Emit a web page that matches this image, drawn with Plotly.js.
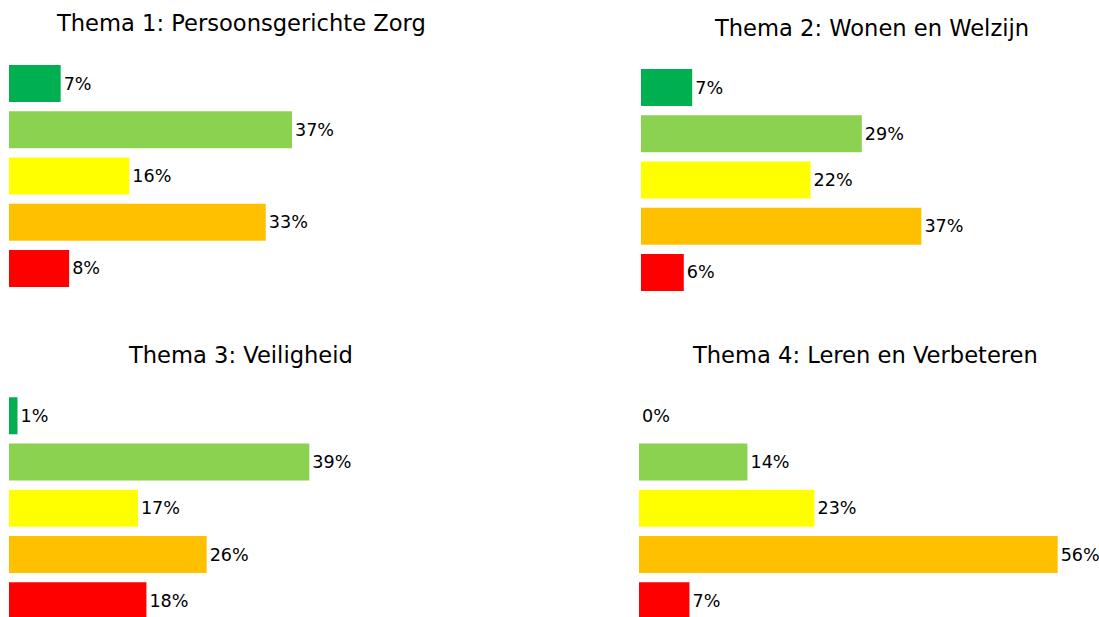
<!DOCTYPE html>
<html>
<head>
<meta charset="utf-8">
<script src="https://cdn.plot.ly/plotly-3.0.1.min.js"></script>
<style>html,body{margin:0;padding:0;background:#fff;}#chart{width:1099px;height:617px;}</style>
</head>
<body>
<div id="chart"></div>
<script>
// Categories (score levels, top to bottom)
var categories = ['Donkergroen', 'Lichtgroen', 'Geel', 'Oranje', 'Rood'];
var barColors = ['#00B050', '#8AD24F', '#FFFF00', '#FFC000', '#FF0000'];

// Subplot titles
var titles = [
  'Thema 1: Persoonsgerichte Zorg',
  'Thema 2: Wonen en Welzijn',
  'Thema 3: Veiligheid',
  'Thema 4: Leren en Verbeteren'
];

// Percentages per theme
var thema1 = [6.7, 36.7, 15.6, 33.3, 7.8];
var thema2 = [6.7, 28.9, 22.2, 36.7, 5.6];
var thema3 = [1.1, 38.9, 16.7, 25.6, 17.8];
var thema4 = [0.0, 14.4, 23.3, 55.6, 6.7];

var series = [thema1, thema2, thema3, thema4];
var W = 1099, H = 617;
var font = 'DejaVu Sans, Liberation Sans, sans-serif';

var traces = series.map(function (vals, i) {
  var n = i === 0 ? '' : String(i + 1);
  return {
    type: 'bar',
    orientation: 'h',
    x: vals,
    y: categories,
    xaxis: 'x' + n,
    yaxis: 'y' + n,
    marker: { color: barColors, line: { width: 0 } },
    width: 0.8,
    texttemplate: '%{x:.0f}%',
    textposition: 'outside',
    textfont: { family: font, size: 17.6, color: '#000' },
    cliponaxis: false,
    hoverinfo: 'skip',
    showlegend: false
  };
});

function xa(d0px, scale, rmax) {
  return {
    domain: [d0px / W, (d0px + scale * rmax) / W],
    range: [0, rmax],
    visible: false,
    showgrid: false,
    zeroline: false,
    fixedrange: true
  };
}
function ya(topPx, bottomPx, rTop, rBottom) {
  return {
    domain: [1 - bottomPx / H, 1 - topPx / H],
    range: [rBottom, rTop],
    type: 'category',
    visible: false,
    showgrid: false,
    zeroline: false,
    fixedrange: true
  };
}

var layout = {
  width: W, height: H,
  margin: { l: 0, r: 0, t: 0, b: 0 },
  paper_bgcolor: '#fff', plot_bgcolor: '#fff',
  font: { family: font },
  bargap: 0.2,
  xaxis: xa(9, 7.71, 40),
  yaxis: ya(60.4, 291.6, -0.5, 4.5),
  xaxis2: xa(641, 7.64, 40),
  yaxis2: ya(64.4, 295.6, -0.5, 4.5),
  xaxis3: xa(9, 7.72, 40),
  yaxis3: ya(392.7, 617, -0.5, 4.35),
  xaxis4: xa(639, 7.53, 60),
  yaxis4: ya(392.7, 617, -0.5, 4.35),
  annotations: [
    { text: titles[0], x: 241 / W, y: 1 - 23.5 / H },
    { text: titles[1], x: 871.5 / W, y: 1 - 28 / H },
    { text: titles[2], x: 240.5 / W, y: 1 - 355 / H },
    { text: titles[3], x: 865 / W, y: 1 - 355 / H }
  ].map(function (a) {
    a.xref = 'paper'; a.yref = 'paper';
    a.xanchor = 'center'; a.yanchor = 'middle';
    a.showarrow = false;
    a.font = { family: font, size: 22.6, color: '#000' };
    return a;
  })
};

Plotly.newPlot('chart', traces, layout, { displayModeBar: false, staticPlot: true });
</script>
</body>
</html>
